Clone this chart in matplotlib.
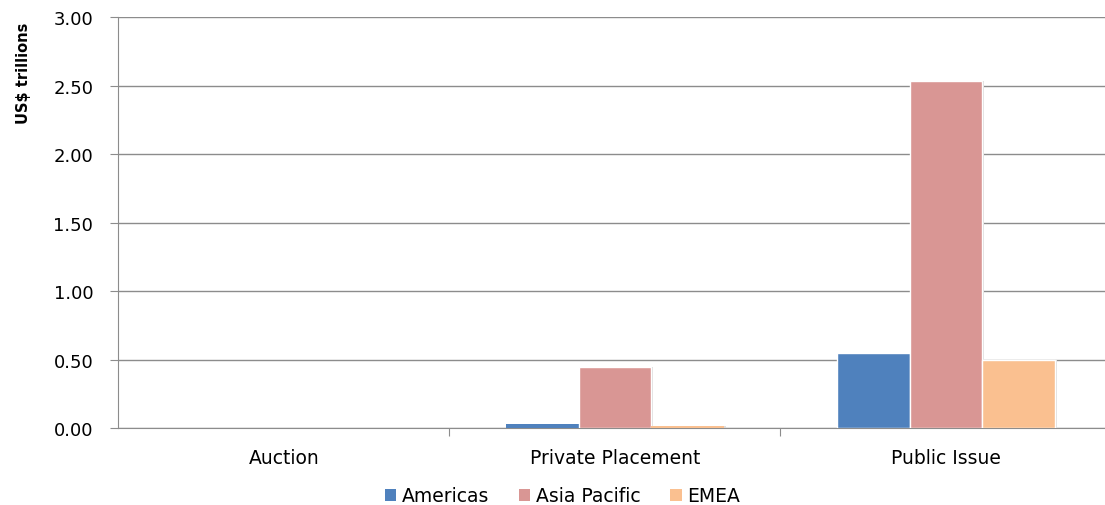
import matplotlib
matplotlib.use("Agg")
import matplotlib.pyplot as plt
import numpy as np

# values, US$ trillions
categories = ["Auction", "Private Placement", "Public Issue"]
series_names = ["Americas", "Asia Pacific", "EMEA"]
americas = [0.002, 0.03, 0.545]
asia_pacific = [0.002, 0.445, 2.535]
emea = [0.001, 0.018, 0.497]
colors = ["#4F81BD", "#D99694", "#FAC090"]

plt.rcParams['font.family'] = ['DejaVu Sans']

fig = plt.figure(figsize=(11.05, 5.06), dpi=100)
# plot area runs a little past the right edge of the picture, as in the reference
ax = fig.add_axes([0.107, 0.152, 0.899, 0.812])

x = np.arange(len(categories))
w = 0.22
for i, (vals, name) in enumerate(zip([americas, asia_pacific, emea], series_names)):
    pos = x + (i - 1) * w
    # faint shadow behind the bars
    ax.bar(pos + 0.006, vals, w, color="#dedede", zorder=2, linewidth=0)
    # white edge would swallow the tiny bars, so leave it off on those
    lw = [0 if v < 0.05 else 1.0 for v in vals]
    ax.bar(pos, vals, w, color=colors[i], edgecolor="white", linewidth=lw,
           label=name, zorder=3)

ax.set_xlim(-0.5, 2.5)
ax.set_ylim(0, 3.0)
ticks = np.arange(0, 3.01, 0.5)
ax.set_yticks(ticks)
ax.set_yticklabels(["%.2f" % v for v in ticks], fontsize=13)
ax.yaxis.grid(True, color="#8c8c8c", linewidth=1)
ax.set_axisbelow(True)

ax.set_xticks([0.5, 1.5])
ax.set_xticklabels([])
ax.set_xticks(x, minor=True)
ax.set_xticklabels(categories, minor=True, fontsize=13.5)
ax.tick_params(axis="x", which="major", length=6, color="#8c8c8c")
ax.tick_params(axis="x", which="minor", length=0, pad=14)
ax.tick_params(axis="y", length=6, color="#8c8c8c", pad=12)

for s in ["top", "right"]:
    ax.spines[s].set_visible(False)
ax.spines["left"].set_color("#8c8c8c")
ax.spines["bottom"].set_color("#8c8c8c")

ax.set_ylabel("US$ trillions", fontsize=10.5, fontweight="bold")
ax.yaxis.set_label_coords(-0.088, 0.865)

ax.legend(loc="center", bbox_to_anchor=(0.447, -0.165), ncol=3, frameon=False,
          fontsize=13.5, handlelength=0.6, handleheight=0.6, handletextpad=0.3,
          columnspacing=1.6)

fig.savefig("out.png", dpi=100)
